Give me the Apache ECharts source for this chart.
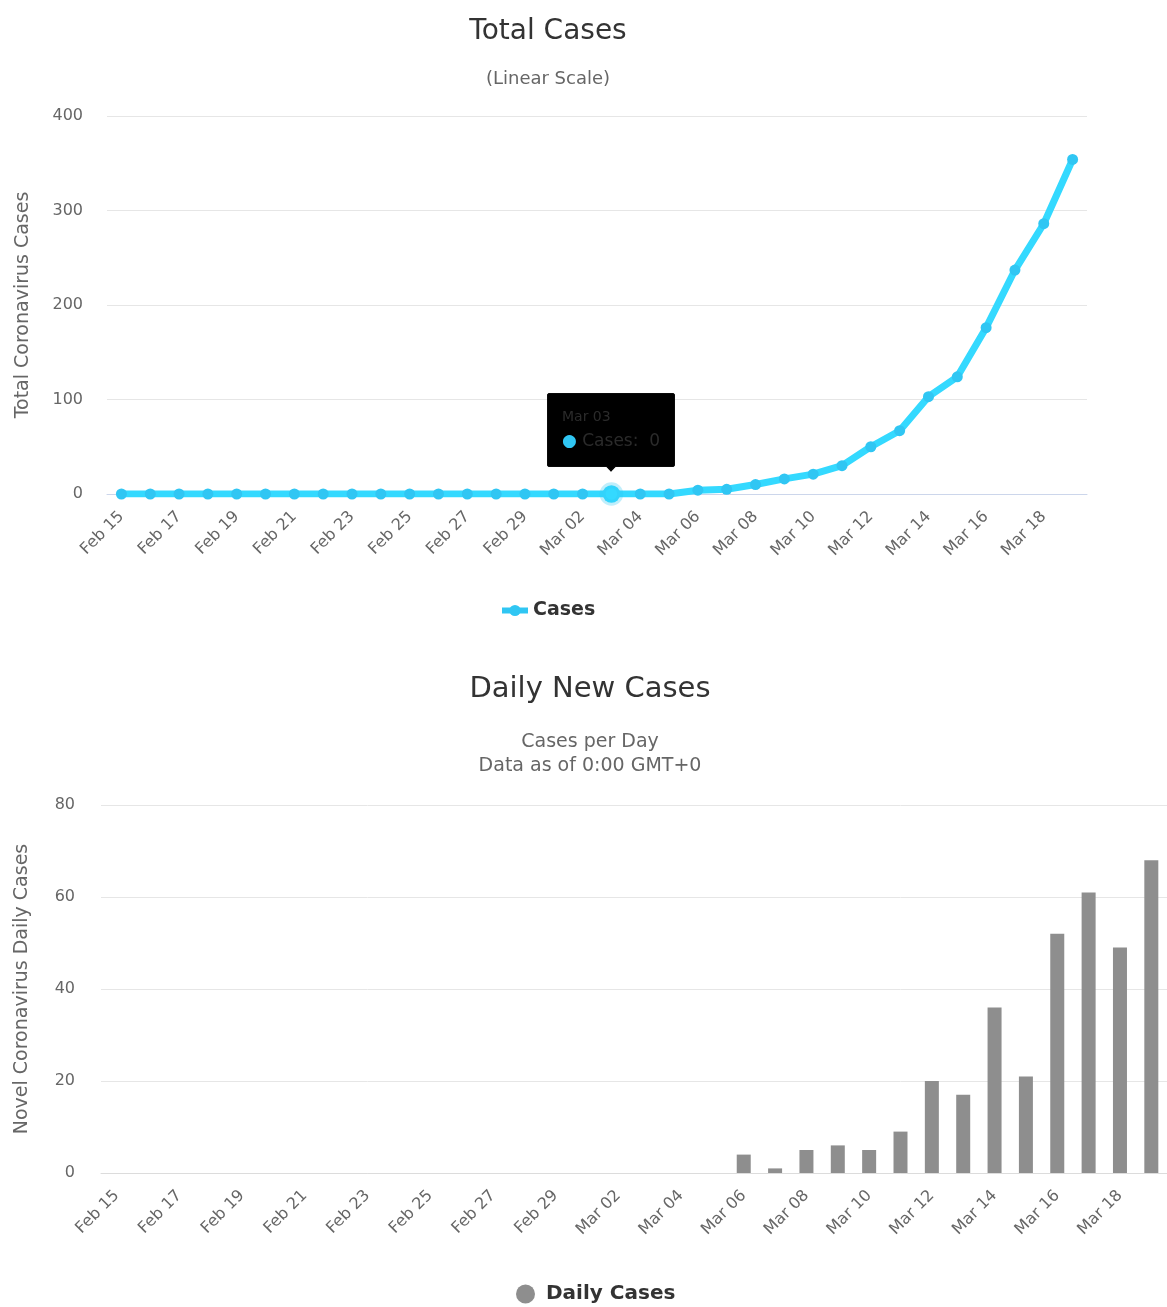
<!DOCTYPE html>
<html>
<head>
<meta charset="utf-8">
<script src="https://cdn.jsdelivr.net/npm/echarts@6/dist/echarts.min.js"></script>
<style>
  html, body { margin: 0; padding: 0; background: #fff; overflow: hidden; }
  #chart { width: 1167px; height: 1307px; }
</style>
</head>
<body>
<div id="chart"></div>
<script>
const days = ['Feb 15','Feb 16','Feb 17','Feb 18','Feb 19','Feb 20','Feb 21','Feb 22','Feb 23','Feb 24',
  'Feb 25','Feb 26','Feb 27','Feb 28','Feb 29','Mar 01','Mar 02','Mar 03','Mar 04','Mar 05',
  'Mar 06','Mar 07','Mar 08','Mar 09','Mar 10','Mar 11','Mar 12','Mar 13','Mar 14','Mar 15',
  'Mar 16','Mar 17','Mar 18','Mar 19'];
const totalCases = [0,0,0,0,0,0,0,0,0,0, 0,0,0,0,0,0,0,0,0,0,
  4,5,10,16,21,30,50,67,103,124, 176,237,286,354];
const dailyCases = [0,0,0,0,0,0,0,0,0,0, 0,0,0,0,0,0,0,0,0,0,
  4,1,5,6,5,9,20,17,36,21, 52,61,49,68];
const totalTicks = [0, 400, 100];   // min, max, interval
const dailyTicks = [0, 80, 20];

const font = 'DejaVu Sans';
const blue = '#30c6f3';
const gray = '#8e8e8e';
const labelStyle = { color: '#666', fontSize: 16, fontFamily: font };

const chart = echarts.init(document.getElementById('chart'));
const option = {
  animation: false,
  textStyle: { fontFamily: font },
  title: [
    { text: 'Total Cases', subtext: '(Linear Scale)', left: 543, top: 13, textAlign: 'center', itemGap: 24,
      textStyle: { fontSize: 28, fontWeight: 'normal', color: '#333', fontFamily: font },
      subtextStyle: { fontSize: 18, color: '#666', fontFamily: font } },
    { text: 'Daily New Cases', subtext: 'Cases per Day\nData as of 0:00 GMT+0', left: 585, top: 670, textAlign: 'center', itemGap: 26,
      textStyle: { fontSize: 29, fontWeight: 'normal', color: '#333', fontFamily: font },
      subtextStyle: { fontSize: 19, color: '#666', lineHeight: 24, fontFamily: font } }
  ],
  legend: [
    { data: ['Cases'], left: 494, top: 596, itemWidth: 26, itemHeight: 14,
      lineStyle: { width: 6 },
      textStyle: { fontSize: 19, fontWeight: 'bold', color: '#333', fontFamily: font } },
    { data: ['Daily Cases'], left: 511, top: 1279, itemWidth: 19, itemHeight: 19, icon: 'circle',
      textStyle: { fontSize: 20, fontWeight: 'bold', color: '#333', fontFamily: font, padding: [0, 0, 0, 6] } }
  ],
  tooltip: {
    trigger: 'item', triggerOn: 'none', alwaysShowContent: true, transitionDuration: 0,
    position: 'top', backgroundColor: '#000', borderColor: '#0a0a0a', borderWidth: 1,
    padding: [12, 14], extraCssText: 'border-radius:2px;box-shadow:none;margin-top:-12px;',
    formatter: function (p) {
      return '<div style="color:#2b2b2b;font-size:14px;font-family:DejaVu Sans;line-height:20px">' + p.name + '</div>' +
        '<div style="color:#2b2b2b;font-size:17px;font-family:DejaVu Sans;line-height:28px">' +
        '<span style="color:' + blue + '">&#9679;</span> Cases:&nbsp; ' + p.value + '</div>';
    }
  },
  grid: [
    { left: 107, right: 80, top: 116, height: 378 },
    { left: 101, right: -6, top: 805, height: 368 }
  ],
  xAxis: [
    { type: 'category', gridIndex: 0, data: days,
      axisLine: { lineStyle: { color: '#ccd6eb' } }, axisTick: { show: false },
      axisLabel: Object.assign({ rotate: 45, interval: 1, margin: 20 }, labelStyle) },
    { type: 'category', gridIndex: 1, data: days,
      axisLine: { lineStyle: { color: '#dcdcdc' } }, axisTick: { show: false },
      axisLabel: Object.assign({ rotate: 45, interval: 1, margin: 20 }, labelStyle) }
  ],
  yAxis: [
    { type: 'value', gridIndex: 0, min: totalTicks[0], max: totalTicks[1], interval: totalTicks[2],
      name: 'Total Coronavirus Cases', nameLocation: 'middle', nameGap: 74,
      nameTextStyle: { color: '#666', fontSize: 19, fontFamily: font },
      axisLabel: Object.assign({ margin: 24 }, labelStyle),
      splitLine: { lineStyle: { color: '#e6e6e6' } } },
    { type: 'value', gridIndex: 1, min: dailyTicks[0], max: dailyTicks[1], interval: dailyTicks[2],
      name: 'Novel Coronavirus Daily Cases', nameLocation: 'middle', nameGap: 69,
      nameTextStyle: { color: '#666', fontSize: 19, fontFamily: font },
      axisLabel: Object.assign({ margin: 26 }, labelStyle),
      splitLine: { lineStyle: { color: '#e6e6e6' } } }
  ],
  series: [
    { name: 'Cases', type: 'line', xAxisIndex: 0, yAxisIndex: 0, data: totalCases,
      symbol: 'circle', symbolSize: 11, color: blue,
      lineStyle: { width: 7, color: blue }, itemStyle: { color: blue },
      emphasis: { scale: 1.6, itemStyle: { borderColor: 'rgba(48,198,243,0.3)', borderWidth: 6 } } },
    { name: 'Daily Cases', type: 'bar', xAxisIndex: 1, yAxisIndex: 1, data: dailyCases,
      barWidth: 14, color: gray, itemStyle: { color: gray }, tooltip: { show: false } }
  ]
};
chart.setOption(option);
chart.dispatchAction({ type: 'highlight', seriesIndex: 0, dataIndex: 17 });
chart.dispatchAction({ type: 'showTip', seriesIndex: 0, dataIndex: 17 });
</script>
</body>
</html>
